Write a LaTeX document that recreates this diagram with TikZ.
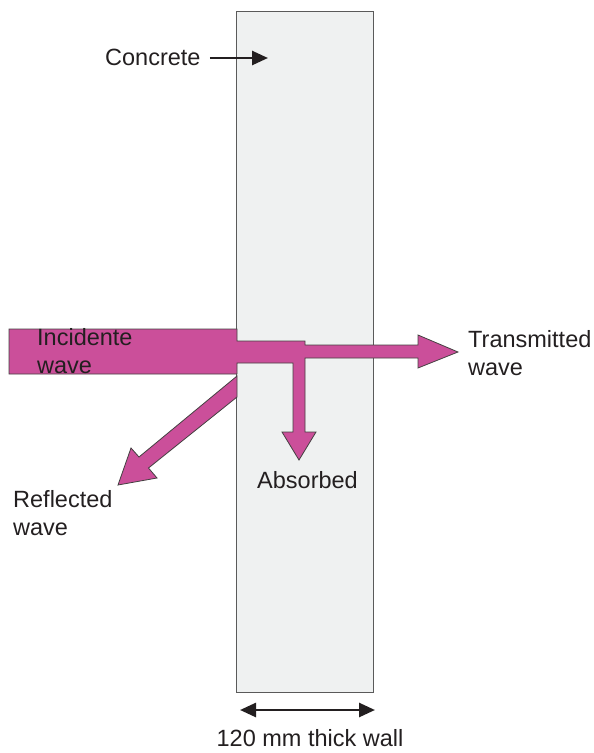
\documentclass[tikz,border=0pt]{standalone}
\usepackage{fontspec}
\setmainfont{Liberation Sans}
\usetikzlibrary{arrows.meta}
\definecolor{wallfill}{HTML}{EFF1F1}
\definecolor{wallline}{HTML}{5A5A5A}
\definecolor{wavepink}{HTML}{CB4F9A}
\definecolor{ink}{HTML}{231F20}
\tikzset{
  lbl/.style={inner sep=0pt, text=ink, font=\fontsize{23.5}{27.5}\selectfont, align=left},
  wallbox/.style={fill=wallfill, draw=wallline, line width=1.2pt},
  wave/.style={fill=wavepink, draw=ink!85, line width=0.8pt, line join=miter},
  blackarrow/.style={draw=ink, line width=2.6pt, -{Triangle[length=16pt,width=14pt]}},
  dblarrow/.style={draw=ink, line width=2.6pt, {Triangle[length=16pt,width=14pt]}-{Triangle[length=16pt,width=14pt]}}
}
\begin{document}
\begin{tikzpicture}[x=1pt,y=-1pt]
\useasboundingbox (0,0) rectangle (594,753);
% wall
\node[wallbox, minimum width=137pt, minimum height=681pt, inner sep=0pt, anchor=north west] (wall) at (236,11) {};
% incident + transmitted + absorbed
\draw[wave] (9,329) -- (237,329) -- (237,341) -- (305,341) -- (305,345) -- (418,345) -- (418,335)
  -- (458,352) -- (418,368) -- (418,358) -- (305,358) -- (305,432) -- (316,432) -- (299,460)
  -- (282,432) -- (293,432) -- (293,363) -- (237,363) -- (237,374) -- (9,374) -- cycle;
% reflected
\draw[wave] (237,376) -- (139,457) -- (131,448) -- (118,485) -- (157,478) -- (148.5,468) -- (237,397) -- cycle;
% labels
\node[lbl, anchor=base west] (concrete) at (105,65) {Concrete};
\node[lbl, anchor=base west] (incident) at (37,373) {Incidente\\wave};
\node[lbl, anchor=base west] (transmitted) at (468,375) {Transmitted\\wave};
\node[lbl, anchor=base west] (absorbed) at (257,488) {Absorbed};
\node[lbl, anchor=base west] (reflected) at (13,535) {Reflected\\wave};
\node[lbl, anchor=base] (thick) at (310,746) {120 mm thick wall};
% arrows
\coordinate (ctip) at (268,58);
\draw[blackarrow] ([xshift=9pt]concrete.east |- ctip) -- (ctip);
\coordinate (dl) at (240,710);
\coordinate (dr) at (375,710);
\draw[dblarrow] (dl) -- (dr);
\end{tikzpicture}
\end{document}
